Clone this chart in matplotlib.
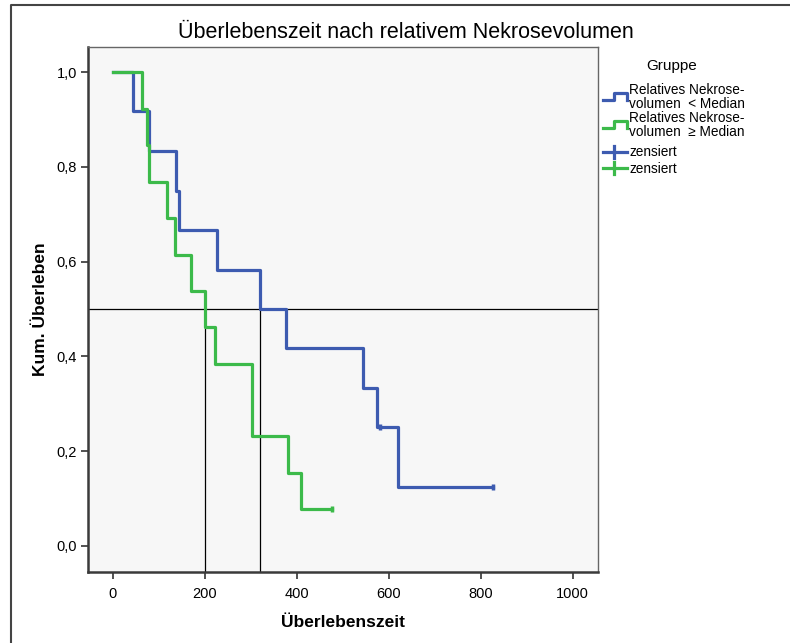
import matplotlib
matplotlib.use("Agg")
from matplotlib import pyplot as plt
from matplotlib.lines import Line2D

plt.rcParams['font.family'] = ['Liberation Sans', 'DejaVu Sans']

# Kaplan-Meier steps
blue_t = [0, 43, 78, 137, 143, 226, 320, 376, 543, 574, 621, 826]
blue_s = [1.0, 0.917, 0.833, 0.75, 0.667, 0.583, 0.5, 0.417, 0.333, 0.25, 0.125, 0.125]
blue_cens_t = [580, 826]
blue_cens_s = [0.25, 0.125]

green_t = [0, 63, 74, 78, 117, 135, 170, 200, 222, 302, 380, 409, 476]
green_s = [1.0, 0.923, 0.846, 0.769, 0.692, 0.615, 0.538, 0.462, 0.385, 0.231, 0.154, 0.077, 0.077]
green_cens_t = [476]
green_cens_s = [0.077]

medians = [200, 320]
xticks = [0, 200, 400, 600, 800, 1000]
yticks = [0.0, 0.2, 0.4, 0.6, 0.8, 1.0]

BLUE = '#3d5bb0'
GREEN = '#3cba4a'

fig = plt.figure(figsize=(7.9, 6.43), dpi=100)
ax = fig.add_axes([88/790, 1 - 572/643, 510/790, 525/643])
ax.set_facecolor('#f7f7f7')

ax.step(blue_t, blue_s, where='post', color=BLUE, lw=2.3, zorder=3)
ax.plot(blue_cens_t, blue_cens_s, ls='none', marker='|', ms=5, mew=2.5, color=BLUE, zorder=3)
ax.step(green_t, green_s, where='post', color=GREEN, lw=2.3, zorder=4)
ax.plot(green_cens_t, green_cens_s, ls='none', marker='|', ms=5, mew=2.5, color=GREEN, zorder=4)

# median reference lines
ax.axhline(0.5, color='black', lw=0.9, zorder=2)
for m in medians:
    ax.plot([m, m], [-0.1, 0.5], color='black', lw=0.9, zorder=2)

ax.set_xlim(-54, 1055)
ax.set_ylim(-0.055, 1.053)
ax.set_xticks(xticks)
ax.set_xticklabels([str(v) for v in xticks])
ax.set_yticks(yticks)
ax.set_yticklabels([('%.1f' % v).replace('.', ',') for v in yticks])
ax.tick_params(direction='out', length=5, width=1.2, color='#333333', labelsize=10.5, pad=3)
ax.tick_params(axis='x', pad=6)

for s in ['left', 'bottom']:
    ax.spines[s].set_linewidth(1.8)
    ax.spines[s].set_color('#3a3a3a')
for s in ['top', 'right']:
    ax.spines[s].set_linewidth(1.0)
    ax.spines[s].set_color('#666666')

ax.set_xlabel('Überlebenszeit', fontsize=12.5, fontweight='bold', labelpad=10)
ax.set_ylabel('Kum. Überleben', fontsize=12.5, fontweight='bold', labelpad=6)
fig.text(406/790, 1 - 32/643, 'Überlebenszeit nach relativem Nekrosevolumen',
         fontsize=15.5, ha='center', va='center')

# legend drawn by hand
def fx(px):
    return px / 790

def fy(py):
    return 1 - py / 643

fig.text(fx(672), fy(66), 'Gruppe', fontsize=11, ha='center', va='center')
for col, y0 in [(BLUE, 100), (GREEN, 128)]:
    fig.add_artist(Line2D([fx(603), fx(614), fx(614), fx(627), fx(627)],
                          [fy(y0), fy(y0), fy(y0 - 7), fy(y0 - 7), fy(y0)],
                          color=col, lw=2.3))
for col, y0 in [(BLUE, 152), (GREEN, 168)]:
    fig.add_artist(Line2D([fx(603), fx(627)], [fy(y0), fy(y0)], color=col, lw=2.3))
    fig.add_artist(Line2D([fx(614), fx(614)], [fy(y0 - 6), fy(y0 + 6)], color=col, lw=2.3))

fig.text(fx(629), fy(97), 'Relatives Nekrose-\nvolumen  < Median', fontsize=9.8,
         ha='left', va='center', linespacing=1.05)
fig.text(fx(629), fy(125), 'Relatives Nekrose-\nvolumen  ≥ Median', fontsize=9.8,
         ha='left', va='center', linespacing=1.05)
fig.text(fx(629), fy(152), 'zensiert', fontsize=9.8, ha='left', va='center')
fig.text(fx(629), fy(169), 'zensiert', fontsize=9.8, ha='left', va='center')

# outer frame
fig.add_artist(Line2D([fx(11), fx(11), fx(790)], [0, fy(5), fy(5)], color='#444444', lw=1.5))

fig.savefig('out.png', dpi=100)
